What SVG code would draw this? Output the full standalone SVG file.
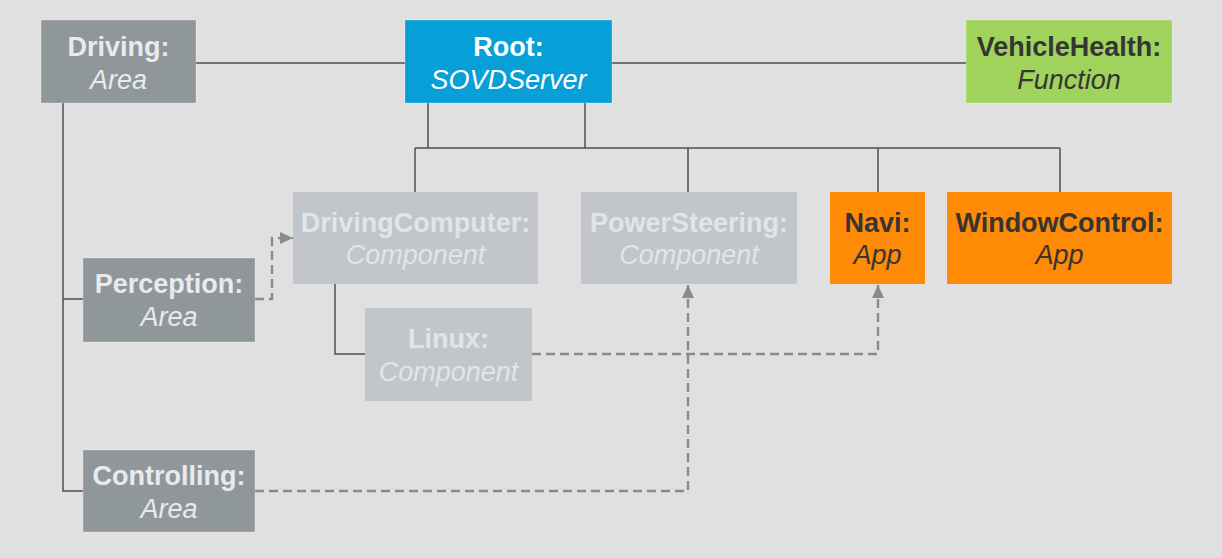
<svg xmlns="http://www.w3.org/2000/svg" width="1222" height="558" viewBox="0 0 1222 558">
<style>
.box{stroke:#ffffff;stroke-opacity:0.25;stroke-width:1}
.t{font-family:"Liberation Sans",Arial,sans-serif;font-size:27px;text-anchor:middle}
.b{font-weight:bold}
.i{font-style:italic}
.wl{fill:#e9eaed}
.ll{fill:#e3e4e6}
.dk{fill:#353535}
.solid{fill:none;stroke:#4f4f4f;stroke-width:1.5}
.dash{fill:none;stroke:#8a8a8a;stroke-width:2.4;stroke-dasharray:9 5}
</style>
<defs>
<marker id="arr" markerUnits="userSpaceOnUse" markerWidth="14" markerHeight="14" viewBox="0 0 14 14" refX="13" refY="7" orient="auto">
<path d="M0,1 L13,7 L0,13 Z" fill="#8a8a8a"/>
</marker>
</defs>
<rect width="1222" height="558" fill="#e0e0e0"/>
<g id="connectors">
<path class="solid" d="M196,63 H405 M612,63 H966"/>
<path class="solid" d="M428,103 V148 M585,103 V148 M415,148 H1060 M415,148 V192 M688,148 V192 M878,148 V192 M1060,148 V192"/>
<path class="solid" d="M63,103 V491 H83 M63,299 H83"/>
<path class="solid" d="M335,284 V354 H365"/>
<path class="dash" marker-end="url(#arr)" d="M255,299 H272 V238 H293"/>
<path class="dash" marker-end="url(#arr)" d="M532,354 H878 V285"/>
<path class="dash" marker-end="url(#arr)" d="M255,491 H688 V285"/>
</g>
<g id="driving">
<rect class="box" x="41" y="20" width="155" height="83" fill="#90979a"/>
<text class="t b wl" x="118.5" y="56">Driving:</text>
<text class="t i wl" x="118.5" y="89">Area</text>
</g>
<g id="root">
<rect class="box" x="405" y="20" width="207" height="83" fill="#079fd7"/>
<text class="t b" fill="#ffffff" x="508.5" y="56">Root:</text>
<text class="t i" fill="#ffffff" x="508.5" y="89">SOVDServer</text>
</g>
<g id="vehiclehealth">
<rect class="box" x="966" y="20" width="206" height="83" fill="#a0d35c"/>
<text class="t b dk" x="1069" y="56">VehicleHealth:</text>
<text class="t i dk" x="1069" y="89">Function</text>
</g>
<g id="drivingcomputer">
<rect x="293" y="192" width="245" height="92" fill="#c2c6ca"/>
<text class="t b ll" x="415.5" y="232">DrivingComputer:</text>
<text class="t i ll" x="415.5" y="264">Component</text>
</g>
<g id="powersteering">
<rect x="581" y="192" width="216" height="92" fill="#c2c6ca"/>
<text class="t b ll" x="689" y="232">PowerSteering:</text>
<text class="t i ll" x="689" y="264">Component</text>
</g>
<g id="navi">
<rect x="830" y="192" width="95" height="92" fill="#ff8a05"/>
<text class="t b dk" x="877.5" y="232">Navi:</text>
<text class="t i dk" x="877.5" y="264">App</text>
</g>
<g id="windowcontrol">
<rect x="947" y="192" width="225" height="92" fill="#ff8a05"/>
<text class="t b dk" x="1059.5" y="232">WindowControl:</text>
<text class="t i dk" x="1059.5" y="264">App</text>
</g>
<g id="perception">
<rect class="box" x="83" y="258" width="172" height="84" fill="#90979a"/>
<text class="t b wl" x="169" y="293">Perception:</text>
<text class="t i wl" x="169" y="326">Area</text>
</g>
<g id="linux">
<rect x="365" y="308" width="167" height="93" fill="#c2c6ca"/>
<text class="t b ll" x="448.5" y="348">Linux:</text>
<text class="t i ll" x="448.5" y="381">Component</text>
</g>
<g id="controlling">
<rect class="box" x="83" y="450" width="172" height="82" fill="#90979a"/>
<text class="t b wl" x="169" y="485">Controlling:</text>
<text class="t i wl" x="169" y="518">Area</text>
</g>
</svg>
